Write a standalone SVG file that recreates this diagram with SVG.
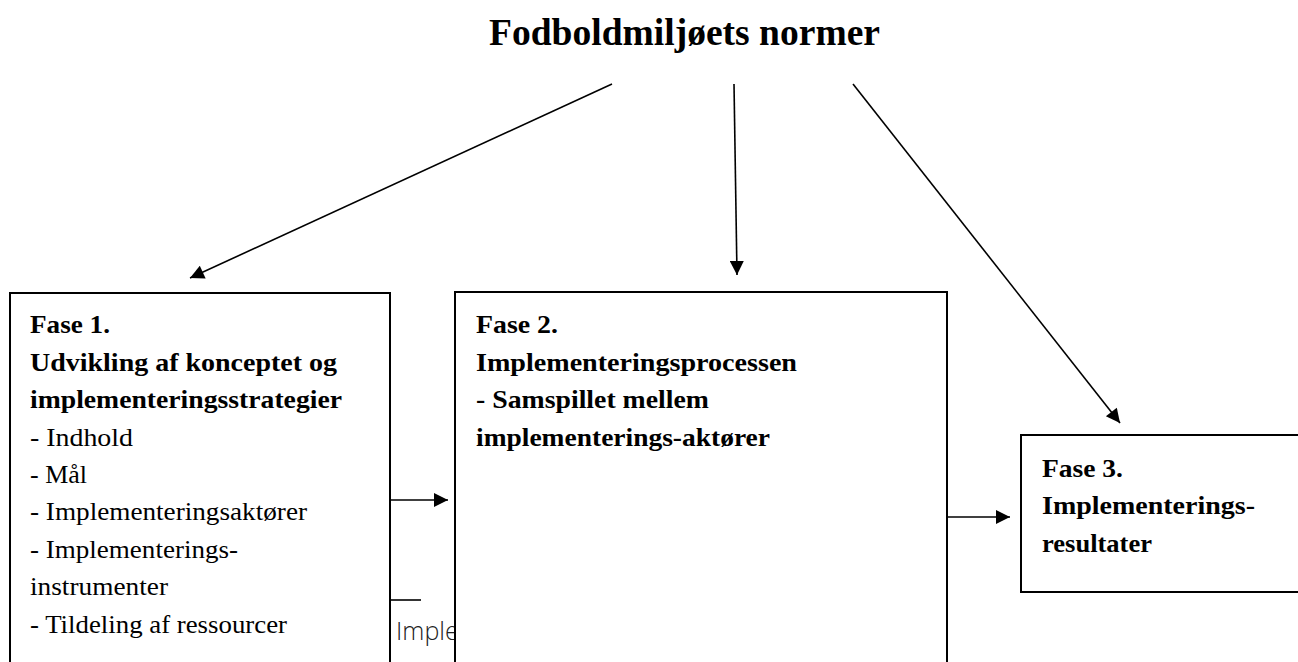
<svg xmlns="http://www.w3.org/2000/svg" width="1298" height="662" viewBox="0 0 1298 662">
<style>
.box{fill:#fff;stroke:#000;stroke-width:2}
.t{font-family:"Liberation Serif","DejaVu Serif",serif;font-size:26px;fill:#000}
.b{font-weight:bold}
.title{font-family:"Liberation Serif","DejaVu Serif",serif;font-size:37.5px;font-weight:bold;fill:#000}
.c{stroke:#000;stroke-width:1.6;fill:none}
.side{font-family:"Open Sans","DejaVu Sans",sans-serif;font-weight:300;font-size:25px;fill:#222}
</style>
<defs>
<marker id="ah2" viewBox="0 0 10 10" refX="10" refY="5" markerWidth="17" markerHeight="14" markerUnits="userSpaceOnUse" orient="auto">
<path d="M0,0 L10,5 L0,10 z" fill="#000"/>
</marker>
</defs>
<g id="title"><text class="title" x="489" y="45" textLength="391" lengthAdjust="spacingAndGlyphs">Fodboldmiljøets normer</text></g>
<g id="side-label"><text class="side" x="396" y="640">Imple</text></g>
<g id="connectors">
<line class="c" x1="612" y1="84" x2="190" y2="278" marker-end="url(#ah2)"/>
<line class="c" x1="734" y1="84" x2="737" y2="275" marker-end="url(#ah2)"/>
<line class="c" x1="853" y1="84" x2="1120" y2="423" marker-end="url(#ah2)"/>
<line class="c" x1="390" y1="500" x2="448" y2="500" marker-end="url(#ah2)"/>
<line class="c" x1="947" y1="517" x2="1010" y2="517" marker-end="url(#ah2)"/>
<line class="c" x1="390" y1="600" x2="421" y2="600"/>
</g>
<g id="fase1">
<rect class="box" x="10" y="293" width="380" height="390"/>
<text class="t b" x="30" y="333" textLength="80" lengthAdjust="spacingAndGlyphs">Fase 1.</text>
<text class="t b" x="30" y="371" textLength="307" lengthAdjust="spacingAndGlyphs">Udvikling af konceptet og</text>
<text class="t b" x="30" y="408" textLength="312" lengthAdjust="spacingAndGlyphs">implementeringsstrategier</text>
<text class="t" x="30" y="446" textLength="103" lengthAdjust="spacingAndGlyphs">- Indhold</text>
<text class="t" x="30" y="483" textLength="57" lengthAdjust="spacingAndGlyphs">- Mål</text>
<text class="t" x="30" y="520" textLength="277" lengthAdjust="spacingAndGlyphs">- Implementeringsaktører</text>
<text class="t" x="30" y="558" textLength="208" lengthAdjust="spacingAndGlyphs">- Implementerings-</text>
<text class="t" x="30" y="595" textLength="138" lengthAdjust="spacingAndGlyphs">instrumenter</text>
<text class="t" x="30" y="633" textLength="257" lengthAdjust="spacingAndGlyphs">- Tildeling af ressourcer</text>
</g>
<g id="fase2">
<rect class="box" x="455" y="292" width="492" height="390"/>
<text class="t b" x="476" y="333" textLength="82" lengthAdjust="spacingAndGlyphs">Fase 2.</text>
<text class="t b" x="476" y="371" textLength="321" lengthAdjust="spacingAndGlyphs">Implementeringsprocessen</text>
<text class="t b" x="476" y="408" textLength="233" lengthAdjust="spacingAndGlyphs">- Samspillet mellem</text>
<text class="t b" x="476" y="446" textLength="294" lengthAdjust="spacingAndGlyphs">implementerings-aktører</text>
</g>
<g id="fase3">
<rect class="box" x="1021" y="435" width="300" height="157"/>
<text class="t b" x="1042" y="477" textLength="81" lengthAdjust="spacingAndGlyphs">Fase 3.</text>
<text class="t b" x="1042" y="514" textLength="213" lengthAdjust="spacingAndGlyphs">Implementerings-</text>
<text class="t b" x="1042" y="552" textLength="110" lengthAdjust="spacingAndGlyphs">resultater</text>
</g>
</svg>
